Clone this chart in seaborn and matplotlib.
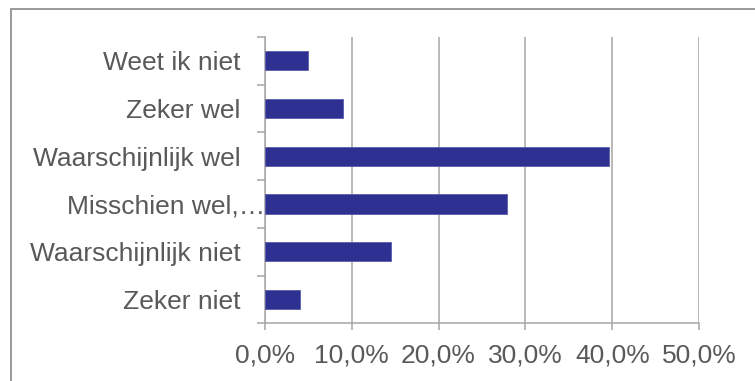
import matplotlib
matplotlib.use("Agg")
import matplotlib.pyplot as plt
import matplotlib.transforms as mtransforms
from matplotlib.lines import Line2D
from matplotlib.ticker import FuncFormatter, FixedLocator
import numpy as np
import pandas as pd
import seaborn as sns

# Survey answers (top to bottom) and their share of respondents
categories = [
    "Weet ik niet",
    "Zeker wel",
    "Waarschijnlijk wel",
    "Misschien wel,\u2026",
    "Waarschijnlijk niet",
    "Zeker niet",
]
shares = [0.050, 0.090, 0.396, 0.279, 0.145, 0.041]
x_ticks = [0.0, 0.1, 0.2, 0.3, 0.4, 0.5]

sns.set_theme(style="white")
plt.rcParams["font.family"] = ["Liberation Sans", "DejaVu Sans"]

TEXT = "#595959"
GRID = "#a6a6a6"
BAR = "#2e3192"

df = pd.DataFrame({"antwoord": categories, "aandeel": shares})

fig = plt.figure(figsize=(7.55, 3.81), dpi=100)
ax = fig.add_axes([264.7 / 755, 1 - 323.3 / 381, 434.6 / 755, (323.3 - 37) / 381])

sns.barplot(
    data=df, x="aandeel", y="antwoord", order=categories,
    color=BAR, saturation=1, width=0.4, ax=ax,
    edgecolor="#5a5ca8", linewidth=0.6, zorder=3,
)

ax.set_xlim(0, 0.5)
ax.set_ylim(len(categories) - 0.5, -0.5)
ax.set_xlabel("")
ax.set_ylabel("")

# x axis: percentages with decimal comma
ax.xaxis.set_major_locator(FixedLocator(x_ticks))
ax.xaxis.set_major_formatter(FuncFormatter(lambda v, _: f"{v * 100:.1f}%".replace(".", ",")))
ax.tick_params(axis="x", which="major", direction="out", length=5.2, width=1.1,
               color=GRID, labelsize=19, labelcolor=TEXT, pad=9, bottom=True)

# y axis: category labels centred, tick marks on category boundaries
ax.tick_params(axis="y", which="major", length=0, labelsize=19, labelcolor=TEXT, pad=17.3)
ax.yaxis.set_minor_locator(FixedLocator(np.arange(-0.5, len(categories), 1.0)))
ax.tick_params(axis="y", which="minor", direction="out", length=5.8, width=1.1,
               color=GRID, left=True)

ax.grid(axis="x", color=GRID, linewidth=1.1, zorder=0)
ax.grid(axis="y", visible=False)
ax.set_axisbelow(True)
for side in ("top", "right"):
    ax.spines[side].set_visible(False)
for side in ("left", "bottom"):
    ax.spines[side].set_color(GRID)
    ax.spines[side].set_linewidth(1.1)

# the truncated label sits closer to the axis
for lbl in ax.get_yticklabels():
    if lbl.get_text().endswith("\u2026"):
        lbl.set_transform(lbl.get_transform() +
                          mtransforms.ScaledTranslation(0.24, 0, fig.dpi_scale_trans))

# chart-area border
fig.add_artist(Line2D([10.5 / 755, 1.0], [1 - 8.5 / 381, 1 - 8.5 / 381],
                      color="#999999", linewidth=1.4, transform=fig.transFigure))
fig.add_artist(Line2D([10.5 / 755, 10.5 / 755], [0.0, 1 - 8.5 / 381],
                      color="#999999", linewidth=1.4, transform=fig.transFigure))

fig.savefig("out.png", dpi=100, facecolor="white")
